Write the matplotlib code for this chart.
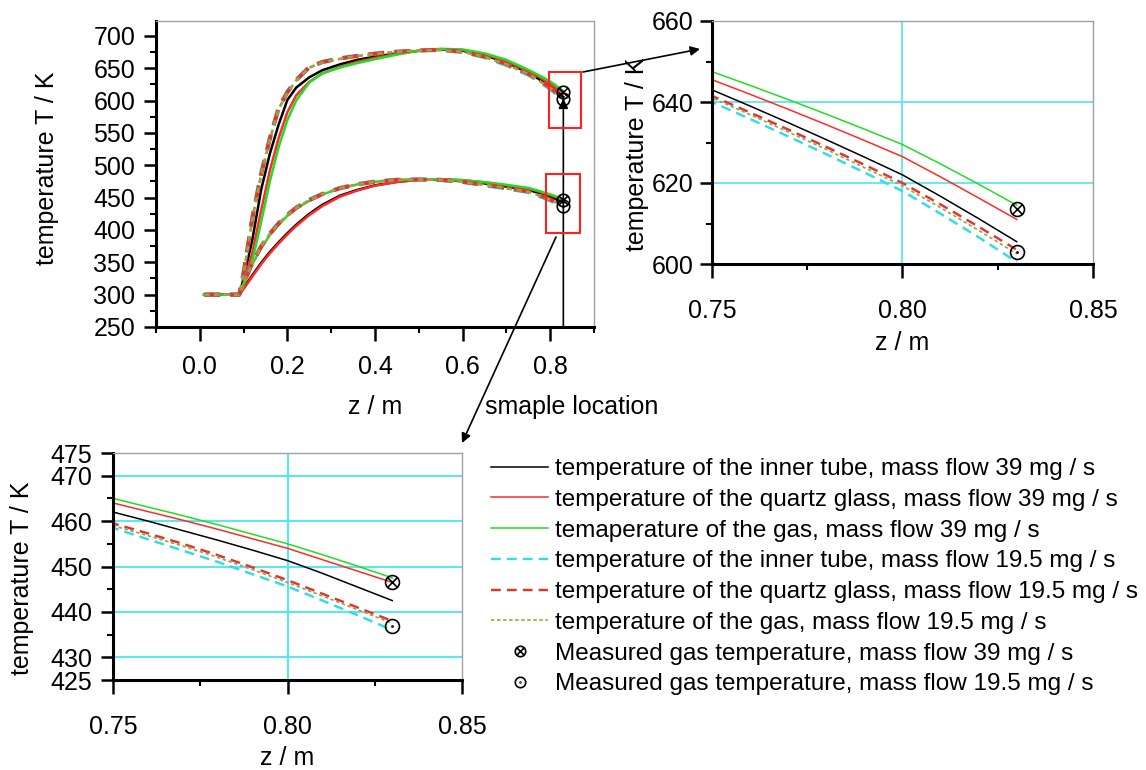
import matplotlib
matplotlib.use("Agg")
import numpy as np
from matplotlib import pyplot as plt
from matplotlib.path import Path
from matplotlib.patches import Rectangle, FancyArrowPatch
from matplotlib.ticker import MultipleLocator, FixedLocator, FormatStrFormatter

plt.rcParams['font.family'] = ['Liberation Sans', 'DejaVu Sans']
plt.rcParams['font.size'] = 18

# %%
# Data (z in m, T in K)
z_grid = [0.01, 0.09, 0.10, 0.12, 0.14, 0.16, 0.18, 0.20, 0.22, 0.25, 0.28, 0.32,
          0.36, 0.40, 0.45, 0.50, 0.55, 0.60, 0.65, 0.70,
          0.75, 0.76, 0.77, 0.78, 0.79, 0.80, 0.81, 0.82, 0.83]

# upper bundle (peak ~680 K)
tube39_hi = [300, 300, 325, 385, 462, 518, 563, 601, 620, 636, 647, 656,
             663, 668, 673, 677, 679, 677, 670, 659,
             643, 639, 634.9, 630.7, 626.4, 622, 616.7, 611.2, 605.5]
quartz39_hi = [300, 300, 318, 365, 430, 492, 542, 582, 608, 629, 642, 652,
               660, 666, 672, 677, 679.5, 678, 671.5, 661,
               645.5, 641.9, 638.2, 634.4, 630.5, 626.5, 621.5, 616.3, 611]
gas39_hi = [300, 300, 314, 352, 412, 475, 528, 570, 600, 628, 642, 651,
            658, 664, 671, 677, 680, 679, 673, 663,
            647.5, 644.1, 640.6, 637, 633.3, 629.5, 624.7, 619.7, 614.5]
tube195_hi = [300, 300, 335, 420, 488, 543, 590, 614, 632, 652, 660, 665.5,
              669.5, 672.5, 675.5, 677.5, 678, 675, 667, 655,
              640, 635.8, 631.5, 627.1, 622.6, 618, 612.4, 606.6, 600.5]
quartz195_hi = [300, 300, 333, 418, 486, 541, 588, 613, 631.5, 651.5, 659.5, 665,
                669, 672.5, 675.5, 677.5, 678.5, 675.5, 668, 656.5,
                641.5, 637.4, 633.2, 628.9, 624.5, 620, 614.7, 609.2, 603.5]
gas195_hi = [300, 300, 332, 417, 485, 540, 587, 612, 631, 651, 659, 664.5,
             669, 672, 675.5, 677.5, 678, 675.5, 667.5, 656,
             641, 636.9, 632.6, 628.3, 623.8, 619.3, 613.9, 608.3, 602.5]

# lower bundle (peak ~478 K)
tube39_lo = [300, 300, 310, 330, 349, 366, 381, 395, 408, 425, 439, 453,
             462, 469, 474.5, 477.5, 478, 476, 472, 467,
             462, 460, 457.9, 455.8, 453.6, 451.3, 448.5, 445.5, 442.5]
quartz39_lo = [300, 300, 309, 328, 347, 364, 379, 393, 406, 423, 437, 451.5,
               461, 468.5, 474, 477.5, 478.5, 477, 473.5, 469,
               464, 462.1, 460.2, 458.2, 456.1, 454, 451.5, 449, 446.5]
gas39_lo = [300, 300, 316, 347, 372, 392, 408, 422, 433, 445, 455, 464,
            470.5, 474.5, 477.5, 478.5, 478.5, 477, 474, 469.8,
            465, 463.1, 461.2, 459.2, 457.1, 455, 452.6, 450.1, 447.5]
tube195_lo = [300, 300, 318, 350, 375, 395, 411, 424, 435, 447, 456, 465,
              471, 475, 477.5, 478, 477, 474, 469, 464,
              458.5, 456, 453.5, 451, 448.3, 445.6, 442.5, 439.3, 436]
quartz195_lo = [300, 300, 317, 349, 374, 394, 410, 423, 434, 446, 455.5, 464.5,
                470.5, 474.5, 477.5, 478, 477.5, 474.5, 470, 465,
                459.5, 457.3, 455, 452.5, 449.8, 447, 444, 441, 438]
gas195_lo = [300, 300, 317, 349, 374, 394, 410, 423, 434, 446, 455.5, 464.5,
             470.5, 474.5, 477.5, 478, 477.5, 474.5, 469.5, 464.5,
             459, 456.8, 454.5, 452, 449.3, 446.5, 443.5, 440.5, 437.5]

# measured gas temperatures at the sample location
z_meas = [0.83, 0.83]
meas39 = [613.5, 446.5]
meas195 = [603, 437]

labels = ['temperature of the inner tube, mass flow 39 mg / s',
          'temperature of the quartz glass, mass flow 39 mg / s',
          'temaperature of the gas, mass flow 39 mg / s',
          'temperature of the inner tube, mass flow 19.5 mg / s',
          'temperature of the quartz glass, mass flow 19.5 mg / s',
          'temperature of the gas, mass flow 19.5 mg / s',
          'Measured gas temperature, mass flow 39 mg / s',
          'Measured gas temperature, mass flow 19.5 mg / s']

# %%
# line styles (colour, dash pattern, width factor)
line_styles = [('black', None, 1.0),
               ('#ff2a2a', None, 1.0),
               ('#22dd22', None, 1.0),
               ('#30dce6', (4, 2.5), 1.6),
               ('#e03535', (4, 2.5), 1.6),
               ('#a0a040', (2, 1.6), 1.1)]
hi_set = [tube39_hi, quartz39_hi, gas39_hi, tube195_hi, quartz195_hi, gas195_hi]
lo_set = [tube39_lo, quartz39_lo, gas39_lo, tube195_lo, quartz195_lo, gas195_lo]

s = np.sqrt(0.5)
cross_marker = Path.make_compound_path(Path.unit_circle(),
                                       Path([[-s, -s], [s, s]]),
                                       Path([[-s, s], [s, -s]]))
dot_circle = Path.make_compound_path(Path.unit_circle(),
                                     Path.circle((0, 0), 0.08))

W, H = 1146, 770
fig = plt.figure(figsize=(W / 100, H / 100), dpi=100)


def px_axes(left, top, right, bottom):
    return fig.add_axes([left / W, 1 - bottom / H, (right - left) / W, (bottom - top) / H])


def style_axes(ax, xpad, ypad):
    for side in ['left', 'bottom']:
        ax.spines[side].set_linewidth(2.2)
        ax.spines[side].set_color('black')
    for side in ['top', 'right']:
        ax.spines[side].set_linewidth(1.0)
        ax.spines[side].set_color('#a0a0a0')
    ax.tick_params(which='major', direction='out', width=1.8, labelsize=18,
                   top=False, right=False)
    ax.tick_params(which='minor', direction='out', length=4.5, width=1.5,
                   top=False, right=False)
    ax.tick_params(axis='x', which='major', length=10, pad=xpad)
    ax.tick_params(axis='y', which='major', length=9, pad=ypad)


def draw_curves(ax, base_lw, msize):
    handles = []
    for group in (hi_set, lo_set):
        hs = []
        for temps, (color, dashes, f) in zip(group, line_styles):
            ln, = ax.plot(z_grid, temps, color=color, lw=base_lw * f)
            if dashes is not None:
                ln.set_dashes(dashes)
            hs.append(ln)
        handles = hs
    m1, = ax.plot(z_meas, meas39, ls='none', marker=cross_marker, ms=msize,
                  mfc='none', mec='black', mew=1.2, zorder=5)
    m2, = ax.plot(z_meas, meas195, ls='none', marker=dot_circle, ms=msize,
                  mfc='none', mec='black', mew=1.2, zorder=5)
    return handles + [m1, m2]


# %%
# main plot
ax = px_axes(156, 21, 594, 327)
style_axes(ax, 10, 6)
draw_curves(ax, 1.8, 9)
ax.set_xlim(-0.1, 0.9)
ax.set_ylim(250, 723)
ax.xaxis.set_major_locator(MultipleLocator(0.2))
ax.xaxis.set_minor_locator(MultipleLocator(0.1))
ax.xaxis.set_major_formatter(FormatStrFormatter('%.1f'))
ax.yaxis.set_major_locator(MultipleLocator(50))
ax.yaxis.set_minor_locator(MultipleLocator(25))
ax.set_xlabel('z / m', va='center')
ax.xaxis.set_label_coords(0.5, (327 - 407) / (327 - 21))
ax.set_ylabel('temperature T / K', va='center')
ax.yaxis.set_label_coords((47 - 156) / (594 - 156), 0.52)

ax.add_patch(Rectangle((0.797, 558), 0.074, 86, fill=False, ec='#ff2020', lw=1.5, zorder=6))
ax.add_patch(Rectangle((0.791, 395), 0.078, 92, fill=False, ec='#ff2020', lw=1.5, zorder=6))
ax.annotate('', xy=(0.83, 603), xytext=(0.83, 250),
            arrowprops=dict(arrowstyle='-|>', color='black', lw=1.2,
                            mutation_scale=14, shrinkA=0, shrinkB=0))

# %%
# zoom of the upper bundle
ax_hi = px_axes(712, 21, 1093, 264)
style_axes(ax_hi, 15, 4)
draw_curves(ax_hi, 1.1, 10)
ax_hi.set_xlim(0.75, 0.85)
ax_hi.set_ylim(600, 660)
ax_hi.xaxis.set_major_locator(FixedLocator([0.75, 0.80, 0.85]))
ax_hi.xaxis.set_minor_locator(FixedLocator([0.775, 0.825]))
ax_hi.xaxis.set_major_formatter(FormatStrFormatter('%.2f'))
ax_hi.yaxis.set_major_locator(MultipleLocator(20))
ax_hi.yaxis.set_minor_locator(MultipleLocator(10))
for v in [620, 640]:
    ax_hi.axhline(v, color='#5ce6ef', lw=1.3, zorder=0)
ax_hi.axvline(0.80, color='#5ce6ef', lw=1.3, zorder=0)
ax_hi.set_xlabel('z / m', va='center')
ax_hi.xaxis.set_label_coords(0.5, (264 - 343) / (264 - 21))
ax_hi.set_ylabel('temperature T / K', va='center')
ax_hi.yaxis.set_label_coords((637 - 712) / (1093 - 712), 0.45)

# %%
# zoom of the lower bundle
ax_lo = px_axes(113, 453, 462, 680)
style_axes(ax_lo, 15, 6)
handles = draw_curves(ax_lo, 1.1, 10)
ax_lo.set_xlim(0.75, 0.85)
ax_lo.set_ylim(425, 475)
ax_lo.xaxis.set_major_locator(FixedLocator([0.75, 0.80, 0.85]))
ax_lo.xaxis.set_minor_locator(FixedLocator([0.775, 0.825]))
ax_lo.xaxis.set_major_formatter(FormatStrFormatter('%.2f'))
ax_lo.yaxis.set_major_locator(FixedLocator([425, 430, 440, 450, 460, 470, 475]))
ax_lo.yaxis.set_minor_locator(FixedLocator([435, 445, 455, 465]))
for v in [430, 440, 450, 460, 470]:
    ax_lo.axhline(v, color='#5ce6ef', lw=1.5, zorder=0)
ax_lo.axvline(0.80, color='#5ce6ef', lw=1.5, zorder=0)
ax_lo.set_xlabel('z / m', va='center')
ax_lo.xaxis.set_label_coords(0.5, (680 - 758) / (680 - 453))
ax_lo.set_ylabel('temperature T / K', va='center')
ax_lo.yaxis.set_label_coords((22 - 113) / (462 - 113), 0.45)

# %%
# connecting arrows and the sample location note
for (xa, ya), (xb, yb) in [((583, 72), (700, 49)), ((556, 237), (462, 443))]:
    fig.add_artist(FancyArrowPatch((xa / W, 1 - ya / H), (xb / W, 1 - yb / H),
                                   transform=fig.transFigure, arrowstyle='-|>',
                                   mutation_scale=14, lw=1.2, color='black',
                                   shrinkA=0, shrinkB=0))
fig.text(485 / W, 1 - 407 / H, 'smaple location', ha='left', va='center', fontsize=18)

fig.legend(handles, labels, loc='upper left', bbox_to_anchor=(491 / W, 1 - 458 / H),
           frameon=False, fontsize=17.5, handlelength=2.35, handletextpad=0.3,
           labelspacing=0.36, borderpad=0, borderaxespad=0, markerscale=0.75)

fig.savefig('out.png', dpi=100, facecolor='white')
